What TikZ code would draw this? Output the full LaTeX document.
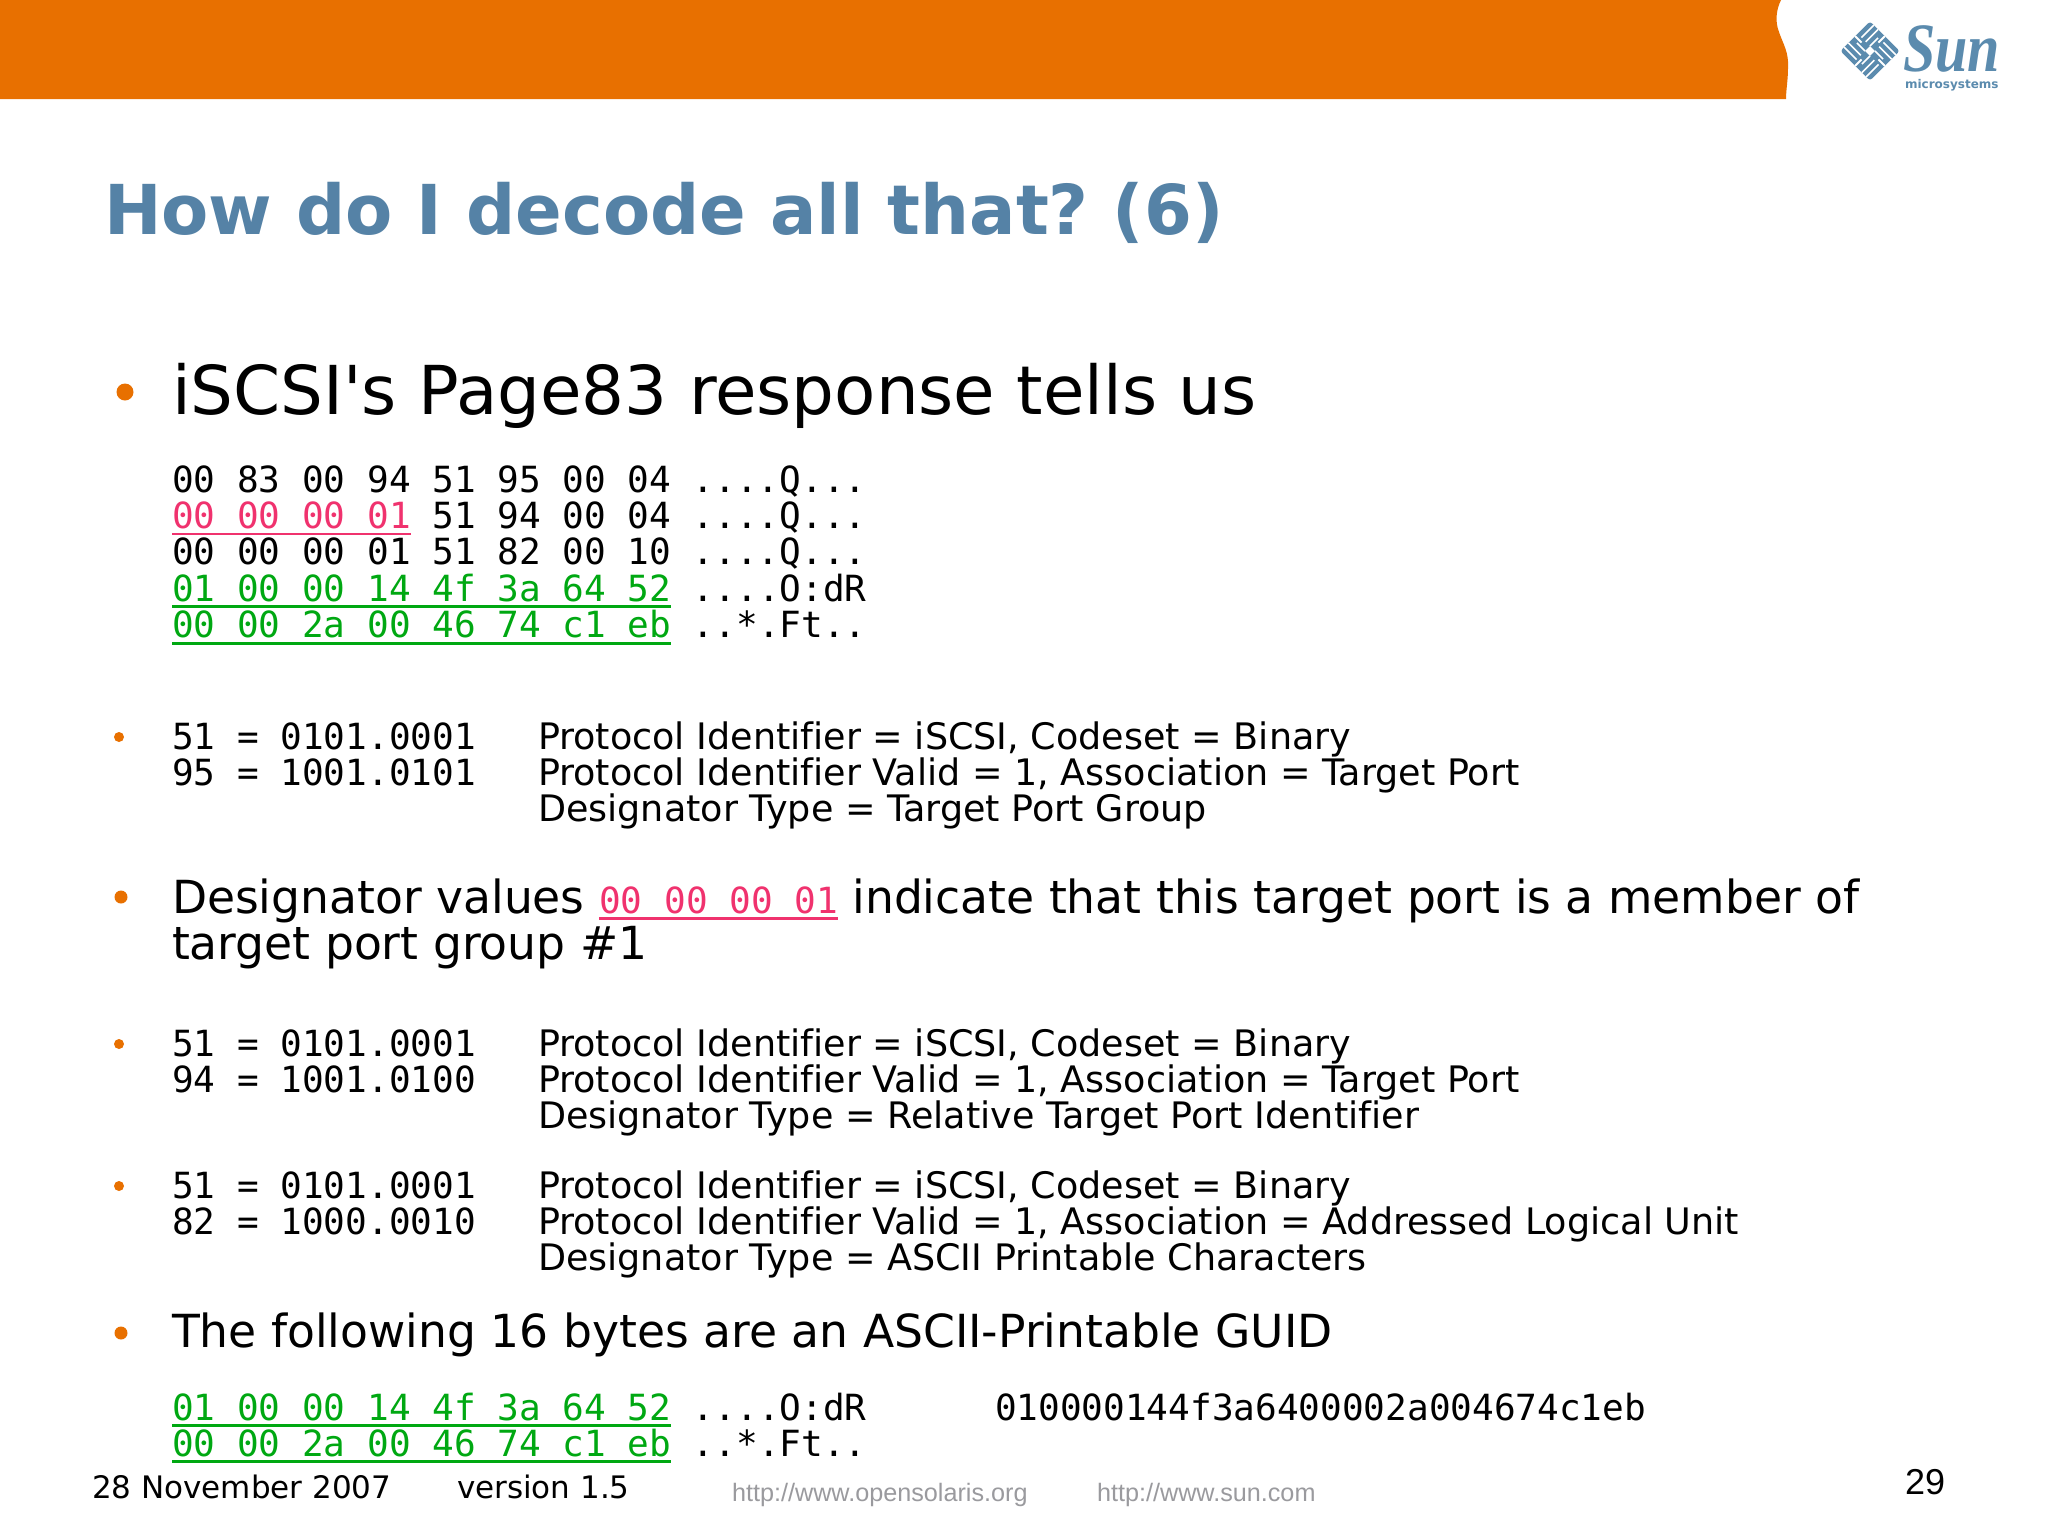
\documentclass[tikz,border=0pt]{standalone}
\usepackage{fontspec}
\setmainfont{DejaVu Sans}
\setmonofont{DejaVu Sans Mono}
\newfontfamily\bodyf[Ligatures=NoCommon]{DejaVu Sans}
\newfontfamily\libsans{Liberation Sans}
\newfontfamily\libserif{Liberation Serif}
\definecolor{bandor}{HTML}{E87000}
\definecolor{titleblue}{HTML}{5582A6}
\definecolor{logoblue}{HTML}{5B8BAE}
\definecolor{hexpink}{HTML}{F0326E}
\definecolor{hexgreen}{HTML}{00A812}
\definecolor{urlgrey}{HTML}{9A9A9E}
\newcommand{\fs}[1]{\fontsize{#1}{#1}\selectfont}
\newcommand{\ulin}[1]{\setbox0\hbox{#1}\rlap{\raisebox{-7pt}{\rule{\wd0}{2.8pt}}}\box0}
\newcommand{\pk}[1]{\textcolor{hexpink}{\ulin{#1}}}
\newcommand{\gr}[1]{\textcolor{hexgreen}{\ulin{#1}}}
\tikzset{
 txt/.style={anchor=base west,inner sep=0pt,outer sep=0pt,text depth=0pt},
 mono/.style={txt,font=\ttfamily\fs{36.05}},
 small/.style={txt,font=\bodyf\fs{36.5}},
 medium/.style={txt,font=\bodyf\fs{45.6}},
 large/.style={txt,font=\bodyf\fs{67.45}},
 foot/.style={txt,font=\bodyf\fs{31}},
 url/.style={txt,font=\libsans\fs{25.2},text=urlgrey},
 bullet/.style={circle,fill=bandor,inner sep=0pt,minimum size=#1}
}
\begin{document}
\frenchspacing
\begin{tikzpicture}[x=1pt,y=-1pt]
\useasboundingbox (0,0) rectangle (2048,1535);
\fill[white] (0,0) rectangle (2048,1535);
% band
\fill[bandor] (0,0) -- (1781,0) .. controls (1776,10) and (1775,22) .. (1779,32) .. controls (1783,44) and (1789,52) .. (1788,68) .. controls (1788,80) and (1786,90) .. (1786,99) -- (0,99) -- cycle;
% logo
\begin{scope}[shift={(1870,51)},rotate=45]
 \fill[logoblue,rounded corners=3pt] (-21,-21) rectangle (21,21);
 \fill[white] (-3.5,-3.5) rectangle (3.5,3.5);
 \foreach \q in {0,90,180,270}{
  \begin{scope}[rotate=\q]
   \draw[white,line width=1.6pt] (3.5,-15.5) -- (21,-15.5);
   \draw[white,line width=1.6pt] (3.5,-9.5) -- (21,-9.5);
   \draw[white,line width=1.6pt] (3.5,-3.5) -- (15,-3.5);
   \draw[white,line width=2pt] (0,-21) -- (0,-12);
  \end{scope}}
\end{scope}
\node[txt,text=logoblue,font=\libserif\itshape\bfseries\fs{66}] (sunword) at (1903,71) {\scalebox{0.88}[1.05]{Sun}};
\node[txt,text=logoblue,font=\bfseries\fs{12}] (sunsub) at (1905,88) {microsystems};
% title
\node[txt,text=titleblue,font=\bfseries\fs{68.8}] (title) at (104,234) {How do I decode all that? (6)};
% first heading
\node[bullet=17] (b1) at (125,392) {};
\node[large] (h1) at (172,414) {iSCSI's Page83 response tells us};
% hex dump
\node[mono] (l1) at (172,492) {00 83 00 94 51 95 00 04 ....Q...};
\node[mono] (l2) at (172,528.4) {\pk{00 00 00 01} 51 94 00 04 ....Q...};
\node[mono] (l3) at (172,564.8) {00 00 00 01 51 82 00 10 ....Q...};
\node[mono] (l4) at (172,601.2) {\gr{01 00 00 14 4f 3a 64 52} ....O:dR};
\node[mono] (l5) at (172,637.6) {\gr{00 00 2a 00 46 74 c1 eb} ..*.Ft..};
% block 1
\node[bullet=10] (b2) at (119,737) {};
\node[mono] (a1) at (172,749) {51 = 0101.0001};
\node[mono] (a2) at (172,785) {95 = 1001.0101};
\node[small] (a3) at (538,749) {Protocol Identifier = iSCSI, Codeset = Binary};
\node[small] (a4) at (538,785) {Protocol Identifier Valid = 1, Association = Target Port};
\node[small] (a5) at (538,821) {Designator Type = Target Port Group};
% designator
\node[bullet=13] (b3) at (121,897) {};
\node[medium] (d1) at (172,913) {Designator values {\ttfamily\fs{36.05}\pk{00 00 00 01}} indicate that this target port is a member of};
\node[medium] (d2) at (172,959) {target port group \#1};
% block 2
\node[bullet=10] (b4) at (119,1044) {};
\node[mono] (c1) at (172,1056) {51 = 0101.0001};
\node[mono] (c2) at (172,1092) {94 = 1001.0100};
\node[small] (c3) at (538,1056) {Protocol Identifier = iSCSI, Codeset = Binary};
\node[small] (c4) at (538,1092) {Protocol Identifier Valid = 1, Association = Target Port};
\node[small] (c5) at (538,1128) {Designator Type = Relative Target Port Identifier};
% block 3
\node[bullet=10] (b5) at (119,1186) {};
\node[mono] (e1) at (172,1198) {51 = 0101.0001};
\node[mono] (e2) at (172,1234) {82 = 1000.0010};
\node[small] (e3) at (538,1198) {Protocol Identifier = iSCSI, Codeset = Binary};
\node[small] (e4) at (538,1234) {Protocol Identifier Valid = 1, Association = Addressed Logical Unit};
\node[small] (e5) at (538,1270) {Designator Type = ASCII Printable Characters};
% guid
\node[bullet=13] (b6) at (121,1333) {};
\node[medium] (g1) at (172,1347) {The following 16 bytes are an ASCII-Printable GUID};
\node[mono] (g2) at (172,1420) {\gr{01 00 00 14 4f 3a 64 52} ....O:dR};
\node[mono] (g3) at (172,1456) {\gr{00 00 2a 00 46 74 c1 eb} ..*.Ft..};
\node[mono] (g4) at (995,1420) {010000144f3a6400002a004674c1eb};
% footer
\node[foot] (f1) at (92,1498) {28 November 2007};
\node[foot] (f2) at (457,1498) {version 1.5};
\node[url] (f3) at (732,1501) {http://www.opensolaris.org};
\node[url] (f4) at (1097,1501) {http://www.sun.com};
\node[txt,font=\libsans\fs{36}] (pg) at (1905,1494) {29};
\end{tikzpicture}
\end{document}
